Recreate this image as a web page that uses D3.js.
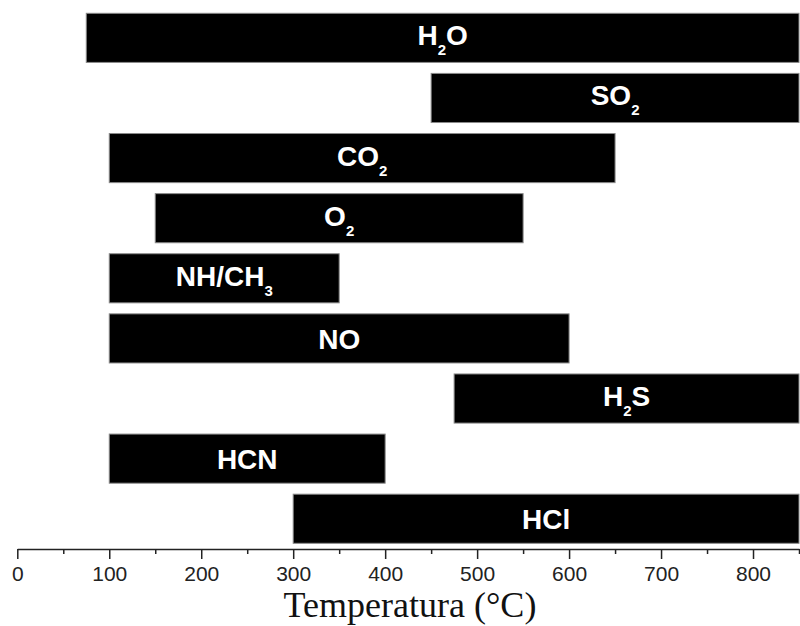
<!DOCTYPE html>
<html>
<head>
<meta charset="utf-8">
<script src="https://cdn.jsdelivr.net/npm/d3@7"></script>
<style>
  html, body { margin: 0; padding: 0; background: #fff; }
  #chart { width: 800px; height: 626px; }
</style>
</head>
<body>
<div id="chart"></div>
<script>
// Gas release temperature ranges (°C); "_x" marks a subscript
const gases = ["H_2O", "SO_2", "CO_2", "O_2", "NH/CH_3", "NO", "H_2S", "HCN", "HCl"];
const startTemps = [75, 450, 100, 150, 100, 100, 475, 100, 300];
const endTemps = [850, 850, 650, 550, 350, 600, 850, 400, 850];
const majorTicks = [0, 100, 200, 300, 400, 500, 600, 700, 800];
const minorTicks = [50, 150, 250, 350, 450, 550, 650, 750, 850];
const xTitle = "Temperatura (°C)";

const data = gases.map((g, i) => ({ gas: g, start: startTemps[i], end: endTemps[i] }));

const width = 800, height = 626;
const axisY = 549;

const svg = d3.select("#chart")
    .append("svg")
    .attr("width", width)
    .attr("height", height);

// Scales
const x = d3.scaleLinear()
    .domain([0, 850])
    .range([17.3, 799]);

const y = d3.scaleBand()
    .domain(gases)
    .range([7.8, 548.8])
    .paddingInner(0.183)
    .paddingOuter(0.0915);

// Bars
svg.selectAll("rect.bar")
    .data(data)
    .enter()
    .append("rect")
    .attr("class", "bar")
    .attr("x", d => x(d.start))
    .attr("y", d => y(d.gas))
    .attr("width", d => x(d.end) - x(d.start))
    .attr("height", y.bandwidth())
    .attr("fill", "#000")
    .attr("stroke", "#8a8a8a")
    .attr("stroke-width", 1);

// Labels (with subscripts)
const labels = svg.selectAll("text.lbl")
    .data(data)
    .enter()
    .append("text")
    .attr("class", "lbl")
    .attr("x", d => (x(d.start) + x(d.end)) / 2)
    .attr("y", d => y(d.gas) + y.bandwidth() / 2 + (d.gas.includes("_") ? 7.5 : 10.5))
    .attr("text-anchor", "middle")
    .attr("fill", "#fff")
    .attr("font-family", "'Liberation Sans', Arial, sans-serif")
    .attr("font-weight", "bold")
    .attr("font-size", "28px");

labels.each(function (d) {
    const t = d3.select(this);
    const parts = d.gas.split(/(_\d)/).filter(p => p.length);
    let lastSub = false;
    parts.forEach(p => {
        if (p.startsWith("_")) {
            t.append("tspan")
                .attr("font-size", "15px")
                .attr("dy", 10)
                .text(p.slice(1));
            lastSub = true;
        } else {
            t.append("tspan")
                .attr("dy", lastSub ? -10 : null)
                .text(p);
            lastSub = false;
        }
    });
});

// Axis
const axis = svg.append("g")
    .attr("transform", `translate(0,${axisY})`)
    .call(d3.axisBottom(x)
        .tickValues(majorTicks)
        .tickSize(10)
        .tickSizeOuter(0)
        .tickPadding(7)
        .tickFormat(d3.format("d")));

axis.select(".domain")
    .attr("stroke", "#222")
    .attr("stroke-width", 1.5);
axis.selectAll(".tick line").attr("stroke", "#222").attr("stroke-width", 1.5);
axis.selectAll(".tick text")
    .attr("fill", "#222")
    .attr("font-family", "'Liberation Sans', Arial, sans-serif")
    .attr("font-size", "21px");

const minor = svg.append("g")
    .attr("transform", `translate(0,${axisY})`)
    .call(d3.axisBottom(x)
        .tickValues(minorTicks)
        .tickSize(5)
        .tickSizeOuter(0)
        .tickFormat(""));
minor.select(".domain").remove();
minor.selectAll(".tick line").attr("stroke", "#222").attr("stroke-width", 1.5);

// Axis title
svg.append("text")
    .attr("x", 410)
    .attr("y", 617)
    .attr("text-anchor", "middle")
    .attr("fill", "#111")
    .attr("font-family", "'Liberation Serif', 'Times New Roman', serif")
    .attr("font-size", "36px")
    .text(xTitle);
</script>
</body>
</html>
